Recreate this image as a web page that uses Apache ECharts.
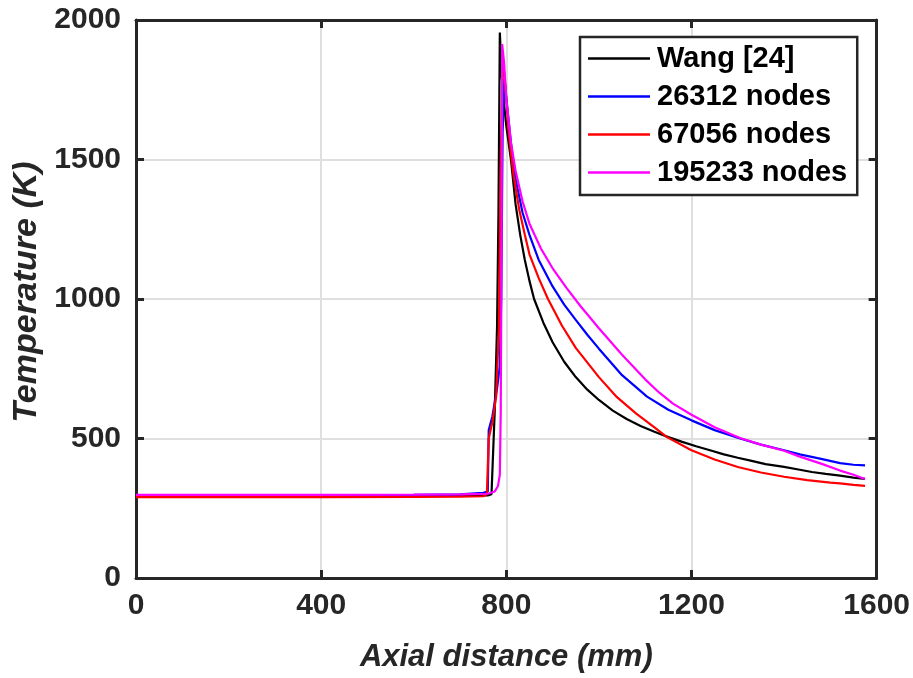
<!DOCTYPE html>
<html>
<head>
<meta charset="utf-8">
<script src="https://cdn.jsdelivr.net/npm/echarts@6/dist/echarts.min.js"></script>
<style>
html,body{margin:0;padding:0;background:#fff;overflow:hidden;width:100%;height:100%;}
#chart{position:fixed;left:0;top:0;width:913px;height:678px;}
</style>
</head>
<body>
<div id="chart"></div>
<script>
// ---- data (axial distance in mm, temperature in K) ----
const seriesNames = ['Wang [24]', '26312 nodes', '67056 nodes', '195233 nodes'];
const seriesColors = ['#000000', '#0000ff', '#ff0000', '#ff00ff'];

const wangX = [0, 200, 400, 600, 700, 760, 768, 775, 780, 783, 786, 790, 795, 800, 810, 820, 830, 840, 850, 860, 880, 900, 925, 950, 975, 1000, 1030, 1060, 1090, 1120, 1150, 1180, 1210, 1240, 1270, 1300, 1330, 1360, 1400, 1434, 1460, 1490, 1521, 1550, 1575];
const wangY = [293, 293, 293, 294, 295, 296, 300, 600, 900, 1300, 1955, 1800, 1700, 1620, 1500, 1340, 1230, 1140, 1065, 1000, 915, 845, 775, 720, 675, 638, 600, 570, 545, 524, 505, 488, 472, 458, 443, 431, 420, 408, 398, 388, 380, 373, 367, 360, 355];

const n26312X = [0, 200, 400, 600, 700, 750, 760, 762, 770, 780, 786, 789, 792, 796, 800, 810, 820, 835, 850, 870, 900, 925, 950, 975, 1000, 1050, 1104, 1150, 1200, 1250, 1305, 1350, 1400, 1434, 1480, 1521, 1550, 1575];
const n26312Y = [296, 296, 297, 298, 300, 305, 310, 530, 580, 680, 760, 1000, 1600, 1790, 1720, 1560, 1430, 1310, 1230, 1140, 1045, 980, 925, 872, 822, 727, 650, 603, 565, 530, 500, 478, 458, 443, 427, 412, 406, 404];

const n67056X = [0, 200, 400, 600, 700, 750, 758, 762, 770, 778, 784, 788, 792, 797, 805, 815, 828, 840, 850, 870, 890, 920, 950, 1000, 1039, 1080, 1120, 1147, 1200, 1250, 1300, 1350, 1400, 1450, 1500, 1521, 1550, 1575];
const n67056Y = [290, 290, 290, 291, 292, 293, 300, 500, 560, 650, 900, 1500, 1870, 1780, 1600, 1450, 1320, 1230, 1160, 1075, 1000, 905, 825, 720, 648, 590, 540, 505, 458, 425, 398, 378, 363, 351, 342, 339, 334, 330];

const n195233X = [0, 200, 400, 600, 700, 760, 775, 782, 786, 788, 790, 791, 795, 800, 810, 820, 835, 850, 875, 900, 930, 960, 1000, 1050, 1100, 1130, 1160, 1200, 1250, 1305, 1350, 1400, 1434, 1480, 1521, 1550, 1575];
const n195233Y = [298, 298, 298, 299, 300, 302, 310, 330, 370, 600, 1300, 1914, 1850, 1720, 1560, 1460, 1350, 1270, 1180, 1110, 1040, 975, 895, 800, 712, 665, 625, 585, 540, 502, 478, 456, 435, 410, 385, 370, 355];

const xTicks = [0, 400, 800, 1200, 1600];
const yTicks = [0, 500, 1000, 1500, 2000];

const allX = [wangX, n26312X, n67056X, n195233X];
const allY = [wangY, n26312Y, n67056Y, n195233Y];

// ---- chart ----
const axisColor = '#262626';
const chart = echarts.init(document.getElementById('chart'), null, {renderer: 'canvas', width: 913, height: 678});

const series = seriesNames.map((name, i) => ({
  name: name,
  type: 'line',
  xAxisIndex: 0,
  yAxisIndex: 0,
  data: allX[i].map((x, k) => [x, allY[i][k]]),
  showSymbol: false,
  symbol: 'none',
  smooth: false,
  lineStyle: {color: seriesColors[i], width: 2.2},
  itemStyle: {color: seriesColors[i]},
  z: 10 + i,
  animation: false
}));

const plain = v => String(v);
const baseX = {
  type: 'value', min: xTicks[0], max: xTicks[xTicks.length - 1], interval: 400,
  axisLine: {show: true, onZero: false, lineStyle: {color: axisColor, width: 3}},
  axisTick: {show: true, inside: true, length: 8, lineStyle: {color: axisColor, width: 3}},
  splitLine: {show: false}
};
const baseY = {
  type: 'value', min: yTicks[0], max: yTicks[yTicks.length - 1], interval: 500,
  axisLine: {show: true, onZero: false, lineStyle: {color: axisColor, width: 3}},
  axisTick: {show: true, inside: true, length: 8, lineStyle: {color: axisColor, width: 3}},
  splitLine: {show: false}
};
const fam = 'Liberation Sans, Arial, sans-serif';

chart.setOption({
  animation: false,
  backgroundColor: '#ffffff',
  grid: {left: 136, right: 36, top: 20, bottom: 98, containLabel: false},
  legend: {
    data: seriesNames,
    orient: 'vertical',
    left: 580,
    top: 37,
    icon: 'rect',
    itemWidth: 62,
    itemHeight: 2.5,
    itemGap: 9,
    padding: [7, 10, 8, 8],
    borderColor: axisColor,
    borderWidth: 2.5,
    backgroundColor: '#ffffff',
    textStyle: {fontFamily: fam, fontWeight: 'bold', fontSize: 29, color: '#000', padding: [0, 0, 0, 2]},
    z: 50
  },
  xAxis: [
    Object.assign({}, baseX, {
      position: 'bottom',
      name: 'Axial distance (mm)',
      nameLocation: 'middle',
      nameGap: 64,
      nameTextStyle: {fontFamily: fam, fontWeight: 'bold', fontStyle: 'italic', fontSize: 31, color: axisColor},
      axisLabel: {show: true, margin: 13, formatter: plain, fontFamily: fam, fontWeight: 'bold', fontSize: 30, color: axisColor},
      splitLine: {show: true, lineStyle: {color: '#dfdfdf', width: 2}}
    }),
    Object.assign({}, baseX, {
      position: 'top',
      axisLabel: {show: false}
    })
  ],
  yAxis: [
    Object.assign({}, baseY, {
      position: 'left',
      name: 'Temperature (K)',
      nameLocation: 'middle',
      nameGap: 85,
      nameTextStyle: {fontFamily: fam, fontWeight: 'bold', fontStyle: 'italic', fontSize: 34, color: axisColor, padding: [0, 0, 0, 14]},
      axisLabel: {show: true, margin: 15, formatter: plain, fontFamily: fam, fontWeight: 'bold', fontSize: 30, color: axisColor},
      splitLine: {show: true, lineStyle: {color: '#dfdfdf', width: 2}}
    }),
    Object.assign({}, baseY, {
      position: 'right',
      axisLabel: {show: false}
    })
  ],
  series: series
});
</script>
</body>
</html>
